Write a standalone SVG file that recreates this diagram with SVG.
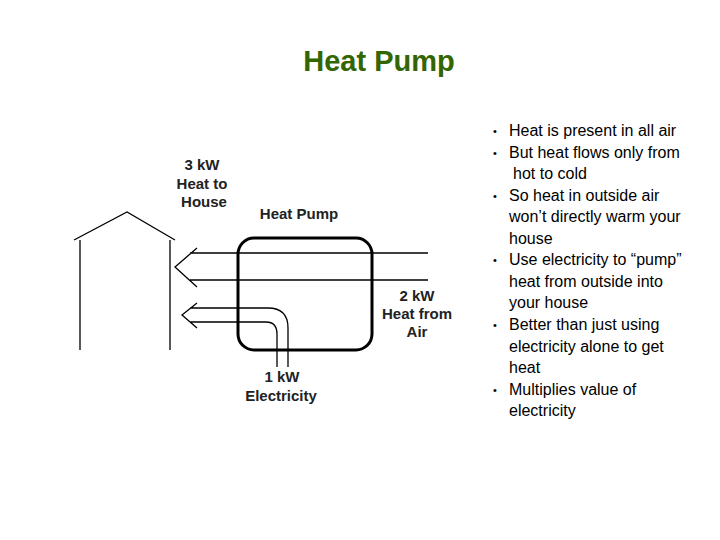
<svg xmlns="http://www.w3.org/2000/svg" width="720" height="540" viewBox="0 0 720 540">
<style>
.l{fill:none;stroke:#000;stroke-width:1.3}
.b{stroke-width:3}
.d{font-family:"Liberation Sans",Arial,sans-serif;font-weight:bold;font-size:15px;text-anchor:middle;fill:#222}
.t{font-family:"Liberation Sans",Arial,sans-serif;font-size:16px;fill:#000}
.p{font-size:11px}
</style>
<rect width="720" height="540" fill="#fff"/>
<text x="379" y="71" font-family="Liberation Sans,Arial,sans-serif" font-weight="bold" font-size="29" fill="#336600" text-anchor="middle">Heat Pump</text>
<g id="house"><path class="l" d="M74 240 L127 212 L175 240 M80 240 V350 M170 240 V350"/></g>
<g id="pump"><rect class="l b" x="238" y="238" width="134" height="112" rx="16"/></g>
<g id="connectors">
<path class="l" d="M190 253 H428 M190 280 H428 M197 248 L175 267 L197 287"/>
<path class="l" d="M190 308 H268 Q288 308 288 328 V367 M190 322 H266 Q277 322 277 334 V367 M197 303 L182 315 L197 328"/>
</g>
<g id="labels">
<text class="d" x="202" y="170">3 kW</text><text class="d" x="202" y="189">Heat to</text><text class="d" x="204" y="207">House</text>
<text class="d" x="299" y="219">Heat Pump</text>
<text class="d" x="417" y="301">2 kW</text><text class="d" x="417" y="319">Heat from</text><text class="d" x="417" y="337">Air</text>
<text class="d" x="282" y="382">1 kW</text><text class="d" x="281" y="401">Electricity</text>
</g>
<g id="bullets" class="t">
<text class="p" x="493" y="135">•</text><text x="509" y="136">Heat is present in all air</text>
<text class="p" x="493" y="157">•</text><text x="509" y="158">But heat flows only from</text>
<text x="513" y="179">hot to cold</text>
<text class="p" x="493" y="200">•</text><text x="509" y="201">So heat in outside air</text>
<text x="509" y="222">won’t directly warm your</text>
<text x="509" y="244">house</text>
<text class="p" x="493" y="264">•</text><text x="509" y="265">Use electricity to “pump”</text>
<text x="509" y="287">heat from outside into</text>
<text x="509" y="308">your house</text>
<text class="p" x="493" y="329">•</text><text x="509" y="330">Better than just using</text>
<text x="509" y="352">electricity alone to get</text>
<text x="509" y="373">heat</text>
<text class="p" x="493" y="394">•</text><text x="509" y="395">Multiplies value of</text>
<text x="509" y="416">electricity</text>
</g>
</svg>
